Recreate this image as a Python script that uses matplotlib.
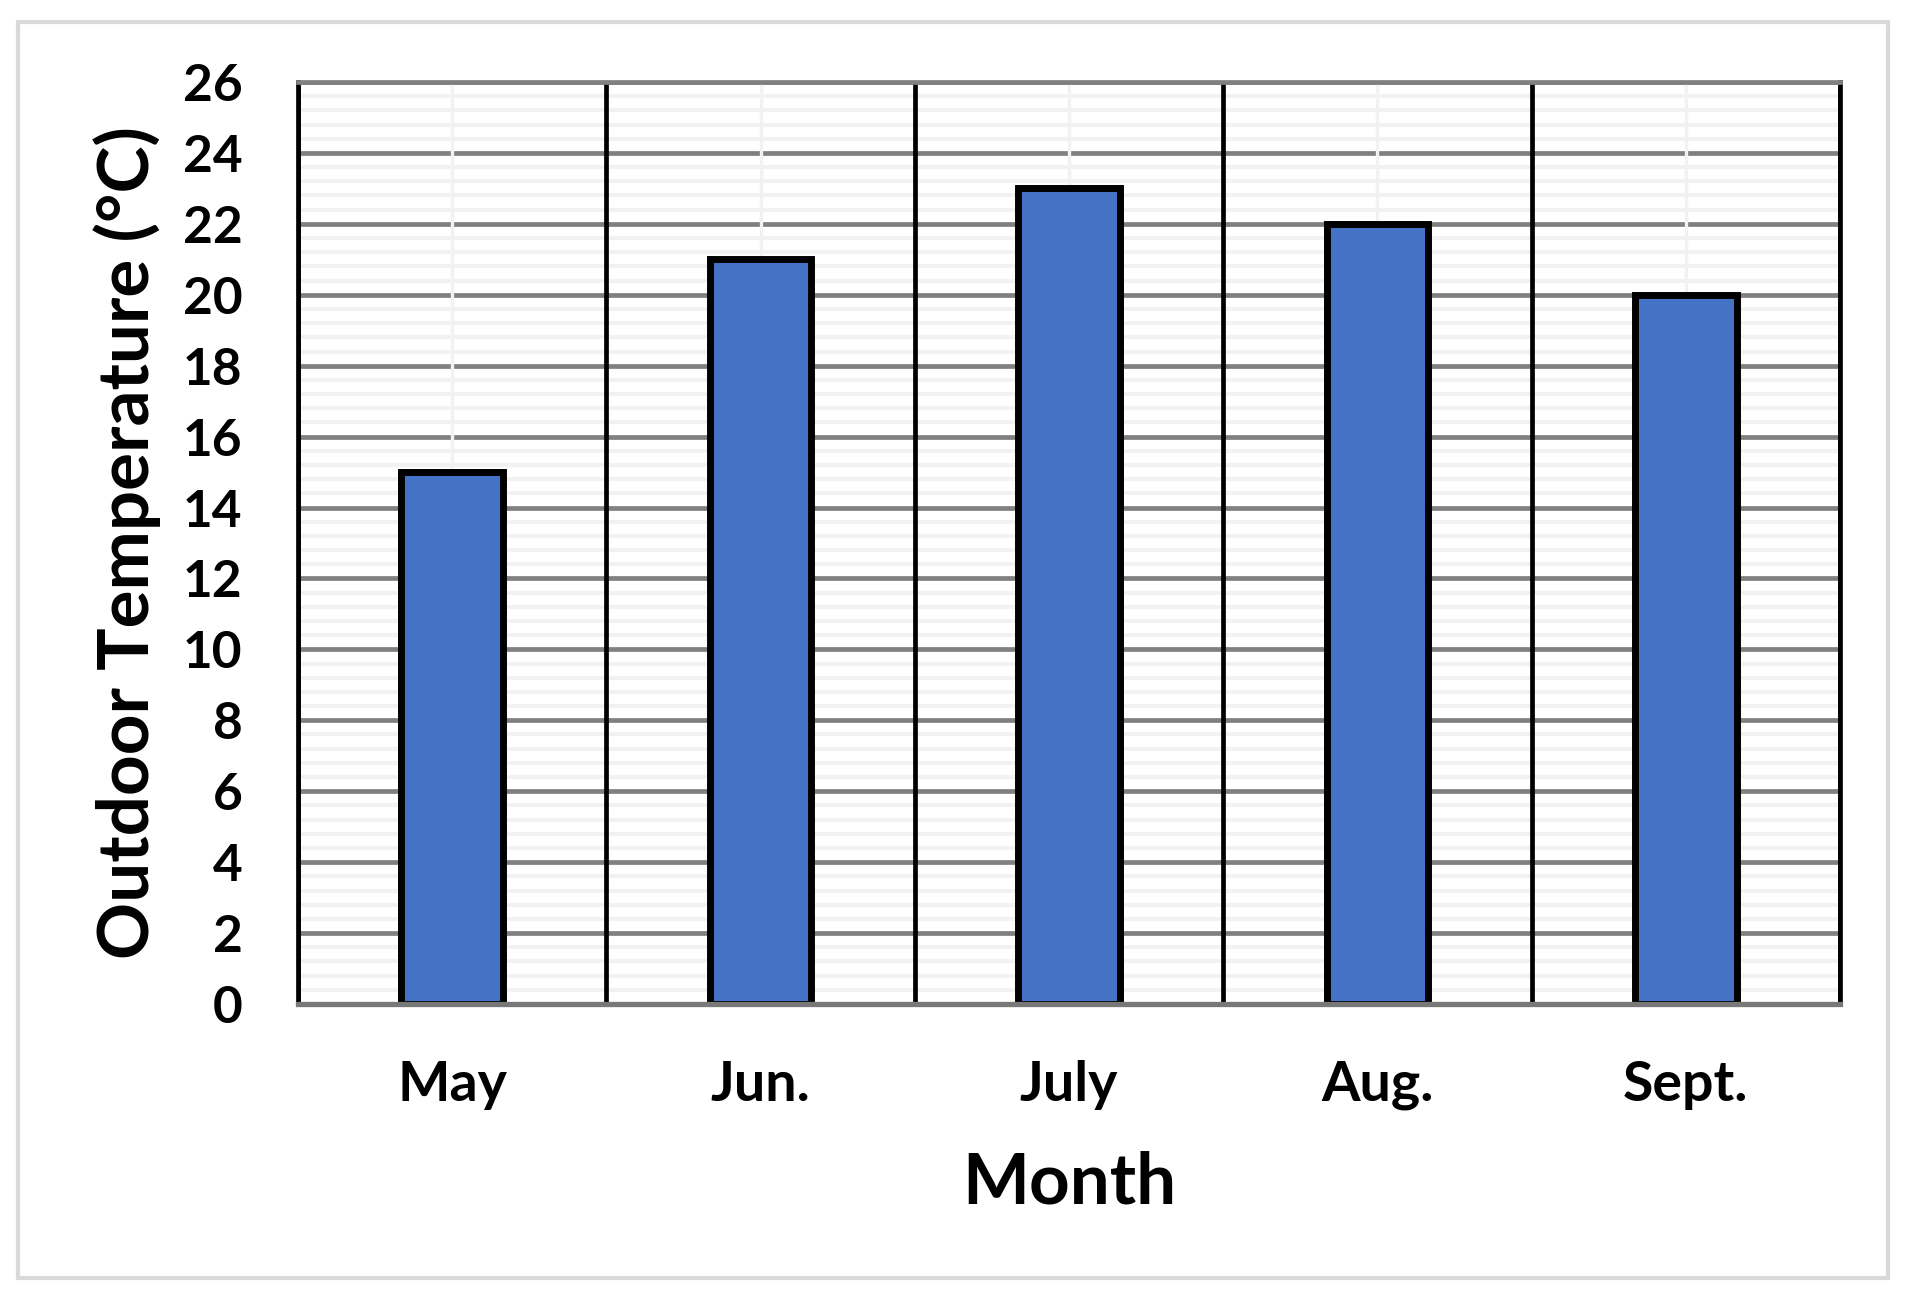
import matplotlib
matplotlib.use("Agg")
import matplotlib.pyplot as plt
from matplotlib.patches import Rectangle
from matplotlib.ticker import MultipleLocator
import numpy as np

months = ["May", "Jun.", "July", "Aug.", "Sept."]
temps = [15, 21, 23, 22, 20]
y_max = 26

plt.rcParams['font.family'] = ['Lato', 'DejaVu Sans']
plt.rcParams['font.weight'] = 'bold'

W, H = 1909, 1299
fig = plt.figure(figsize=(W / 100, H / 100), dpi=100)
ax = fig.add_axes([298 / W, 1 - 1004 / H, (1840 - 298) / W, (1004 - 82) / H])
ax.set_axisbelow(True)

x = np.arange(1, len(months) + 1)
ax.bar(x, temps, width=0.33, color='#4472c4', edgecolor='black', linewidth=5, zorder=2)

ax.set_xlim(0.5, len(months) + 0.5)
ax.set_ylim(0, y_max)
ax.yaxis.set_major_locator(MultipleLocator(2))
ax.yaxis.set_minor_locator(MultipleLocator(0.4))

# horizontal grid
ax.grid(axis='y', which='minor', color='#f2f2f2', linewidth=2.9)
ax.grid(axis='y', which='major', color='#808080', linewidth=3.4)
# vertical lines: light at category centres, black at boundaries
ax.vlines(x, 0, y_max, color='#f2f2f2', linewidth=2.4, zorder=1)
ax.vlines(np.arange(len(months) + 1) + 0.5, 0, y_max, color='black', linewidth=3.4, zorder=1.1)

ax.set_xticks(x)
ax.set_xticklabels(months)
ax.tick_params(axis='both', which='both', length=0)
ax.tick_params(axis='x', pad=40, labelsize=40)
ax.tick_params(axis='y', pad=40, labelsize=37)

for s in ['left', 'right']:
    ax.spines[s].set_color('black')
    ax.spines[s].set_linewidth(3.4)
ax.spines['top'].set_color('#808080')
ax.spines['top'].set_linewidth(3.4)
ax.spines['bottom'].set_color('#787878')
ax.spines['bottom'].set_linewidth(3.8)

ax.set_xlabel('Month', fontsize=51, fontweight='bold', va='baseline')
ax.xaxis.set_label_coords(0.5, (1004 - 1204) / 922)
ax.set_ylabel('Outdoor Temperature (°C)', fontsize=51, fontweight='bold', va='baseline')
ax.yaxis.set_label_coords((149 - 298) / 1542, 0.5)

fig.patches.append(Rectangle((18 / W, 1 - 1278 / H), (1888 - 18) / W, (1278 - 22) / H,
                             transform=fig.transFigure, fill=False, edgecolor='#d9d9d9',
                             linewidth=3))

fig.savefig('out.png', dpi=100)
